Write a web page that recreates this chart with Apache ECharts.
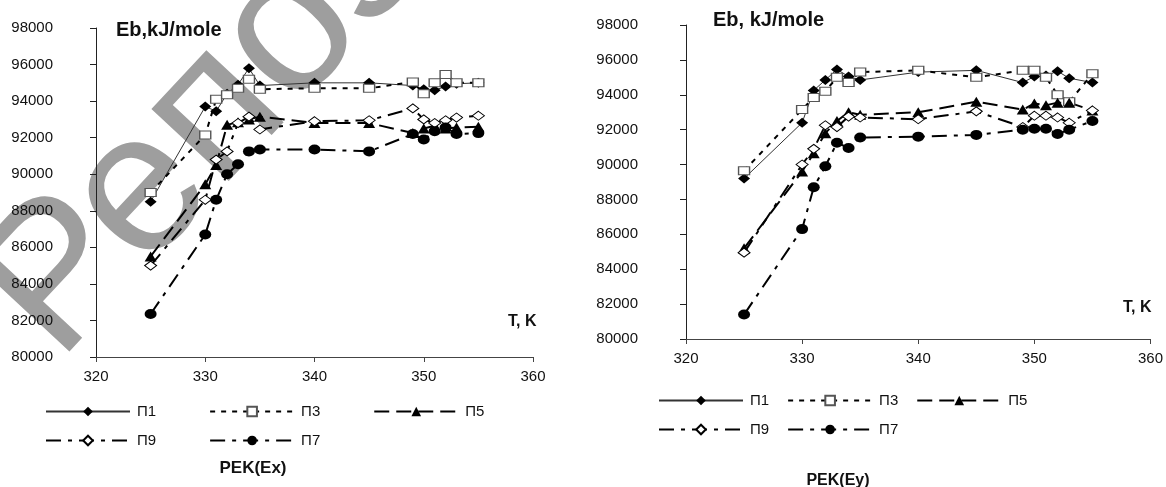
<!DOCTYPE html>
<html>
<head>
<meta http-equiv="content-type" content="text/html; charset=utf-8"/>
<title>Eb(T) - PEK(Ex), PEK(Ey)</title>
<style type="text/css">body,html{width:100%;height:100%;margin:0;background:#fff}#chart{width:1166px;height:487px}</style>
<script src="https://cdn.jsdelivr.net/npm/echarts@6/dist/echarts.min.js"></script>
</head>
<body>
<div id="chart"></div>
<script>
	// температура, K (общая для обоих графиков)
	var tEx = [325, 330, 331, 332, 333, 334, 335, 340, 345, 349, 350, 351, 352, 353, 355];
	var tEy = [325, 330, 331, 332, 333, 334, 335, 340, 345, 349, 350, 351, 352, 353, 355];

	// Eb, kJ/mole - PEK(Ex)
	var p1x = [88500, 93700, 93450, 94400, 94900, 95800, 94850, 95000, 95000, 94850, 94650, 94600, 94800, 94950, 95000];
	var p3x = [89000, 92150, 94100, 94350, 94700, 95200, 94650, 94700, 94700, 95050, 94400, 95000, 95450, 95000, 95000];
	var p5x = [85500, 89450, 90500, 92700, 92850, 93000, 93150, 92800, 92800, 92250, 92500, 92650, 92500, 92550, 92600];
	var p9x = [85000, 88600, 90800, 91250, 92800, 93150, 92450, 92900, 92950, 93600, 93000, 92800, 92950, 93100, 93200];
	var p7x = [82350, 86700, 88600, 90000, 90550, 91250, 91350, 91350, 91250, 92200, 91900, 92350, 92550, 92200, 92250];

	// Eb, kJ/mole - PEK(Ey)
	var p1y = [89200, 92400, 94250, 94850, 95450, 95050, 94850, 95300, 95400, 94700, 95050, 95100, 95350, 94950, 94700];
	var p3y = [89650, 93150, 93850, 94200, 95000, 94700, 95300, 95400, 95000, 95400, 95400, 95000, 94000, 93600, 95200];
	var p5y = [85200, 89600, 90650, 91800, 92500, 93000, 92850, 93000, 93600, 93150, 93500, 93400, 93550, 93550, 93100];
	var p9y = [84950, 90000, 90900, 92250, 92150, 92750, 92700, 92600, 93050, 92150, 92800, 92800, 92700, 92400, 93100];
	var p7y = [81400, 86300, 88700, 89900, 91250, 90950, 91550, 91600, 91700, 92000, 92050, 92050, 91750, 92000, 92500];

	var names = ['П1', 'П3', 'П5', 'П9', 'П7'];

	//оформление серий
	var look = {
		'П1': {symbol: 'diamond', size: [12, 10], fill: '#000', border: '#000', bw: 0, lw: 1, lc: '#333', dash: 'solid'},
		'П3': {symbol: 'rect', size: [11, 8], fill: '#fff', border: '#555', bw: 1.2, lw: 2, lc: '#000', dash: [5, 6]},
		'П5': {symbol: 'triangle', size: [12, 10], fill: '#000', border: '#000', bw: 0, lw: 2, lc: '#000', dash: [15, 7]},
		'П9': {symbol: 'diamond', size: [12, 9], fill: '#fff', border: '#000', bw: 1, lw: 2, lc: '#000', dash: [15, 7, 4, 7]},
		'П7': {symbol: 'circle', size: [12, 10], fill: '#000', border: '#000', bw: 0, lw: 2, lc: '#000', dash: [15, 7, 4, 7]}
	};

	function pairs(t, v) {
		var out = [];
		for (var i = 0; i < t.length; i++) {
			out.push([t[i], v[i]]);
		}
		return out;
	}

	function line(name, t, v, idx) {
		var s = look[name];
		return {
			name: name,
			type: 'line',
			xAxisIndex: idx,
			yAxisIndex: idx,
			data: pairs(t, v),
			symbol: s.symbol,
			symbolSize: s.size,
			showSymbol: true,
			itemStyle: {color: s.fill, borderColor: s.border, borderWidth: s.bw, opacity: 1},
			lineStyle: {color: s.lc, width: s.lw, type: s.dash},
			emphasis: {disabled: true}
		};
	}

	var seriesList = [];
	var left = [p1x, p3x, p5x, p9x, p7x];
	var right = [p1y, p3y, p5y, p9y, p7y];
	for (var i = 0; i < names.length; i++) {
		seriesList.push(line(names[i], tEx, left[i], 0));
	}
	for (var j = 0; j < names.length; j++) {
		seriesList.push(line(names[j], tEy, right[j], 1));
	}

	function plain(v) { return String(v); }

	function xAx(idx) {
		return {
			type: 'value', gridIndex: idx, min: 320, max: 360, interval: 10,
			axisLine: {lineStyle: {color: '#444', width: 1}},
			axisTick: {length: 5, lineStyle: {color: '#444'}},
			axisLabel: {margin: 12, color: '#111', fontSize: 15, fontFamily: 'Liberation Sans', formatter: plain},
			splitLine: {show: false}
		};
	}
	function yAx(idx, margin) {
		return {
			type: 'value', gridIndex: idx, min: 80000, max: 98000, interval: 2000,
			axisLine: {show: true, lineStyle: {color: '#222', width: 1}},
			axisTick: {show: true, length: 6, lineStyle: {color: '#222'}},
			axisLabel: {margin: margin, color: '#111', fontSize: 15, fontFamily: 'Liberation Sans', formatter: plain},
			splitLine: {show: false}
		};
	}

	function legend(items, x, y, gap) {
		return {
			data: items, left: x, top: y, padding: 0, itemGap: gap,
			itemWidth: 84, itemHeight: 12, selectedMode: false,
			textStyle: {color: '#111', fontSize: 15, fontFamily: 'Liberation Sans', padding: [0, 0, 0, 2]}
		};
	}

	function label(text, x, y, size, align) {
		return {
			type: 'text', x: x, y: y, z: 10,
			style: {text: text, font: 'bold ' + size + 'px "Liberation Sans"', fill: '#111', textAlign: align || 'left', textVerticalAlign: 'middle'}
		};
	}

	var myChart = echarts.init(document.getElementById('chart'), null, {renderer: 'canvas'});
	var option = {
		animation: false,
		backgroundColor: '#fff',
		grid: [
			{left: 96, top: 28, width: 437, height: 329},
			{left: 686, top: 25, width: 473, height: 314}
		],
		xAxis: [xAx(0), xAx(1)],
		yAxis: [yAx(0, 43), yAx(1, 48)],
		legend: [
			legend(['П1', 'П3', 'П5'], 45, 404, 53),
			legend(['П9', 'П7'], 45, 433, 53),
			legend(['П1', 'П3', 'П5'], 658, 393, 18),
			legend(['П9', 'П7'], 658, 422, 18)
		],
		graphic: [
			//водяной знак
			{
				type: 'text', x: 18, y: 326, rotation: 47 * Math.PI / 180, z: -10, silent: true,
				style: {text: 'Репозиторий', font: '200px "Liberation Sans"', fill: '#9e9e9e', textAlign: 'left', textVerticalAlign: 'middle'}
			},
			label('Eb,kJ/mole', 116, 30, 20),
			label('Eb, kJ/mole', 713, 20, 20),
			label('T, K', 508, 322, 16),
			label('T, K', 1123, 308, 16),
			label('PEK(Ex)', 253, 468, 17, 'center'),
			label('PEK(Ey)', 838, 481, 16, 'center')
		],
		series: seriesList
	};
	myChart.setOption(option);
</script>
</body>
</html>
